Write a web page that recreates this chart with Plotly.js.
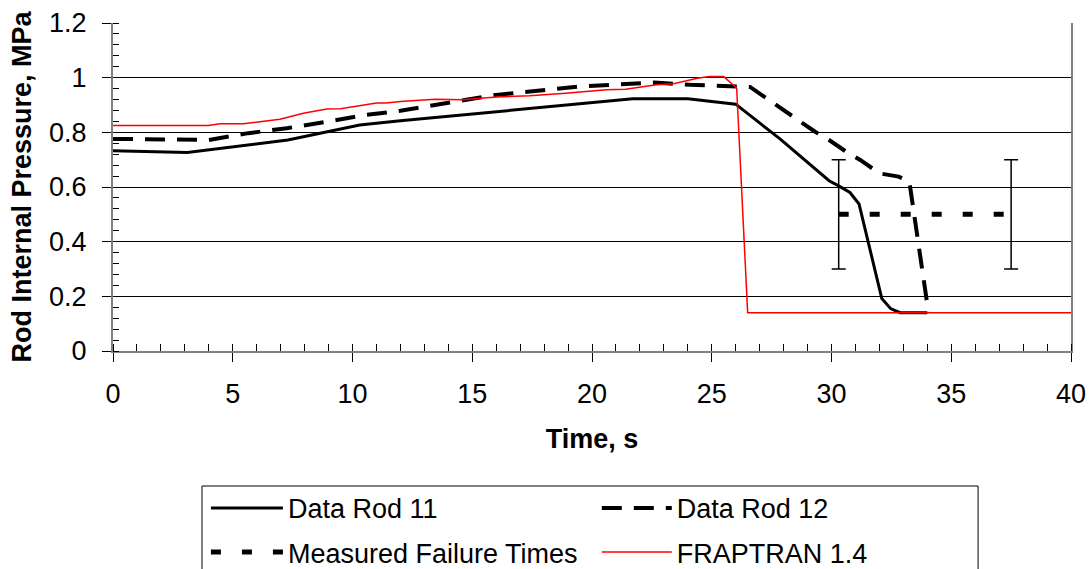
<!DOCTYPE html>
<html>
<head>
<meta charset="utf-8">
<script src="https://cdn.plot.ly/plotly-3.0.1.min.js"></script>
<style>html,body{margin:0;padding:0;background:#fff;}#chart{width:1091px;height:569px;}</style>
</head>
<body>
<div id="chart"></div>
<script>
// Data Rod 11 (solid)
const rod11Time = [0, 3.1, 7.3, 8.9, 10.3, 12, 21.7, 24.0, 26.0, 27.85, 29.9, 30.3, 30.77, 31.15, 32.1, 32.47, 32.86, 34.0];
const rod11Pres = [0.733, 0.726, 0.772, 0.80, 0.827, 0.842, 0.923, 0.923, 0.903, 0.776, 0.623, 0.604, 0.58, 0.538, 0.192, 0.155, 0.14, 0.14];

// Data Rod 12 (dashed)
const rod12Time = [0, 4.0, 5.65, 7.25, 9.0, 10.6, 12.0, 16.0, 19.5, 22.6, 24.1, 26.6, 29.3, 29.9, 30.6, 31.2, 32.0, 32.8, 33.25, 34.05];
const rod12Pres = [0.776, 0.772, 0.797, 0.815, 0.84, 0.864, 0.879, 0.937, 0.968, 0.982, 0.974, 0.966, 0.803, 0.772, 0.73, 0.699, 0.65, 0.638, 0.62, 0.14];

// FRAPTRAN 1.4 (red)
const frapTime = [0, 3.98, 4.47, 5.44, 6.97, 7.95, 8.92, 9.5, 11.0, 11.4, 12.0, 13.45, 14.6, 16.0, 17.4, 18.9, 20.6, 21.4, 22.7, 23.4, 24.4, 24.9, 25.5, 26.04, 26.5, 40];
const frapPres = [0.825, 0.825, 0.831, 0.831, 0.848, 0.870, 0.885, 0.886, 0.907, 0.907, 0.913, 0.921, 0.919, 0.929, 0.934, 0.943, 0.956, 0.958, 0.974, 0.978, 0.998, 1.004, 1.004, 0.962, 0.14, 0.14];

// Measured Failure Times
const failTime = [30.3, 37.5];
const failPres = [0.5, 0.5];
const failErr = [0.2, 0.2];

const xTickVals = [0, 5, 10, 15, 20, 25, 30, 35, 40];
const yTickVals = [0, 0.2, 0.4, 0.6, 0.8, 1, 1.2];
const yTickText = ['0', '0.2', '0.4', '0.6', '0.8', '1', '1.2'];

const FONT = 'Liberation Sans, Arial, sans-serif';

const traces = [
  {x: rod11Time, y: rod11Pres, name: 'Data Rod 11', mode: 'lines', legend: 'legend', legendgroup: 'a',
   line: {color: '#000', width: 3}},
  {x: failTime, y: failPres, name: 'Measured Failure Times', mode: 'lines', legend: 'legend', legendgroup: 'b',
   line: {color: '#000', width: 5, dash: '10px,21px'},
   error_y: {type: 'data', array: failErr, visible: true, color: '#000', thickness: 1.5, width: 7}},
  {x: rod12Time, y: rod12Pres, name: 'Data Rod 12', mode: 'lines', legend: 'legend2', legendgroup: 'c',
   line: {color: '#000', width: 4, dash: '20px,12px'}},
  {x: frapTime, y: frapPres, name: 'FRAPTRAN 1.4', mode: 'lines', legend: 'legend2', legendgroup: 'd',
   line: {color: '#ff0000', width: 1.5}}
];

const layout = {
  width: 1091, height: 569,
  margin: {l: 113, r: 20, t: 23, b: 218, autoexpand: false},
  paper_bgcolor: '#fff', plot_bgcolor: '#fff',
  font: {family: FONT, size: 27, color: '#000'},
  showlegend: true,
  xaxis: {
    range: [0, 40], tickvals: xTickVals, ticktext: xTickVals.map(String),
    ticks: 'outside', ticklen: 9, tickwidth: 1, tickcolor: '#000',
    minor: {dtick: 1, ticks: 'inside', ticklen: 7, tickcolor: '#000', tickwidth: 1, showgrid: false},
    showgrid: false, zeroline: false,
    showline: true, linecolor: '#808080', linewidth: 2,
    ticklabelstandoff: 9,
    tickfont: {family: FONT, size: 27, color: '#000'},
    title: {text: '<b>Time, s</b>', font: {family: FONT, size: 27, color: '#000'}, standoff: 21}
  },
  xaxis2: {
    overlaying: 'x', anchor: 'y', range: [0, 40], tickvals: xTickVals,
    ticks: 'inside', ticklen: 8, tickwidth: 1, tickcolor: '#000',
    showticklabels: false, showgrid: false, zeroline: false, showline: false
  },
  yaxis: {
    range: [0, 1.2], tickvals: yTickVals, ticktext: yTickText,
    ticks: 'outside', ticklen: 9, tickwidth: 1, tickcolor: '#000',
    minor: {dtick: 0.04, ticks: 'inside', ticklen: 6, tickcolor: '#000', tickwidth: 1, showgrid: false},
    showgrid: true, gridcolor: '#000', gridwidth: 1, zeroline: false,
    showline: true, linecolor: '#808080', linewidth: 2, mirror: true,
    ticklabelstandoff: 10,
    tickfont: {family: FONT, size: 27, color: '#000'},
    title: {text: '<b>Rod Internal Pressure, MPa</b>', font: {family: FONT, size: 27, color: '#000'}, standoff: 10}
  },
  legend: {
    x: 0.097, xanchor: 'left', y: -0.405, yanchor: 'top', orientation: 'v',
    bgcolor: 'rgba(0,0,0,0)', borderwidth: 0, itemwidth: 72,
    font: {family: FONT, size: 27, color: '#000'}, tracegroupgap: 6
  },
  legend2: {
    x: 0.505, xanchor: 'left', y: -0.405, yanchor: 'top', orientation: 'v',
    bgcolor: 'rgba(0,0,0,0)', borderwidth: 0, itemwidth: 70,
    font: {family: FONT, size: 27, color: '#000'}, tracegroupgap: 6
  },
  shapes: [
    {type: 'rect', xref: 'paper', yref: 'paper', x0: 0.0929, x1: 0.903, y0: -0.4116, y1: -0.75,
     line: {color: '#000', width: 1}, fillcolor: 'rgba(0,0,0,0)', layer: 'below'}
  ]
};

Plotly.newPlot('chart', traces, layout, {displayModeBar: false, staticPlot: true});
</script>
</body>
</html>
